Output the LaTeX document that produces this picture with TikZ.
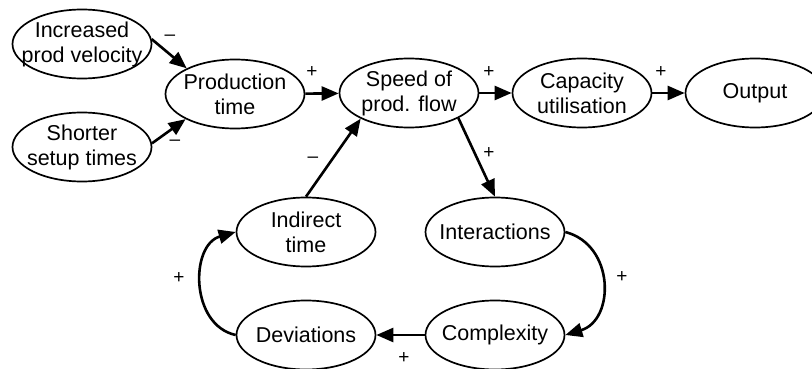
\documentclass[tikz,border=0pt]{standalone}
\usepackage{fontspec}
\setmainfont{Liberation Sans}
\usetikzlibrary{shapes.geometric,arrows.meta}
\begin{document}
\begin{tikzpicture}[x=1pt,y=-1pt,
  var/.style={ellipse,draw,line width=1.7pt,minimum width=139pt,minimum height=69pt,
    inner xsep=-20pt,inner ysep=-5pt,
    align=center,font=\fontsize{21.5}{25}\selectfont},
  link/.style={line width=2.6pt,-{Triangle[length=17pt,width=14pt]}},
  sign/.style={font=\fontsize{19}{20}\selectfont}]
\useasboundingbox (0,0) rectangle (812,369);
\node[var] (inc) at (82,44) {Increased\\prod velocity};
\node[var] (set) at (82,147) {Shorter\\setup times};
\node[var] (pro) at (235,94) {Production\\time};
\node[var] (spd) at (409,93) {Speed of\\prod. flow};
\node[var] (cap) at (582,93) {Capacity\\utilisation};
\node[var] (out) at (755,93) {Output};
\node[var] (ind) at (306,232) {Indirect\\time};
\node[var] (int) at (495,232) {Interactions};
\node[var] (dev) at (306,335) {Deviations};
\node[var] (cpx) at (495,335) {Complexity};
% causal links
\draw[link] (inc.4) -- (pro.152);
\draw[link] (set.3) -- (pro.-153);
\draw[link] (pro) -- (spd);
\draw[link] (spd) -- (cap);
\draw[link] (cap) -- (out);
\draw[link] (ind.north) -- (spd.-152);
\draw[link] (spd.-27) -- (int.north);
\draw[link] (int.east) .. controls (615,245) and (615,320) .. (cpx.east);
\draw[link] (cpx) -- (dev);
\draw[link] (dev.west) .. controls (190,325) and (190,245) .. (ind.west);
% polarity signs
\node[sign] (s1) at (170,38) {--};
\node[sign] (s2) at (175,143) {--};
\node[sign] (s3) at (312,72) {+};
\node[sign] (s4) at (489,72) {+};
\node[sign] (s5) at (661,72) {+};
\node[sign] (s6) at (313,160) {--};
\node[sign] (s7) at (489,153) {+};
\node[sign] (s8) at (179,278) {+};
\node[sign] (s9) at (404,358) {+};
\node[sign] (s10) at (622,277) {+};
\end{tikzpicture}
\end{document}
